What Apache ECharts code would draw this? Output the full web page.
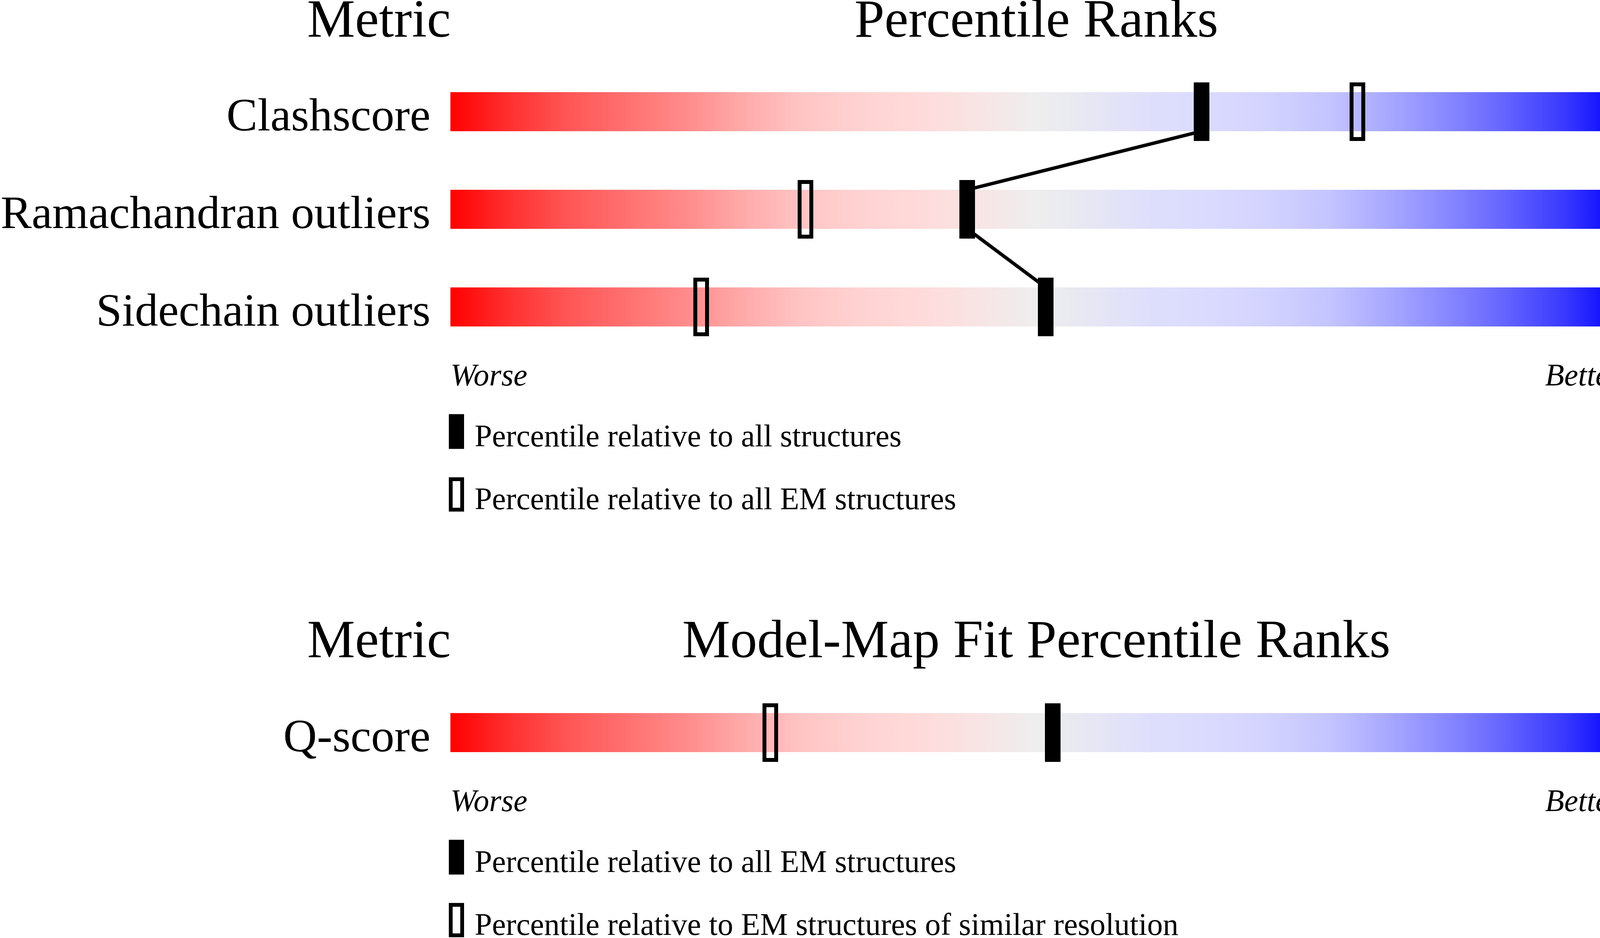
<!DOCTYPE html>
<html>
<head>
<meta charset="utf-8">
<script src="https://cdn.jsdelivr.net/npm/echarts@6/dist/echarts.min.js"></script>
<style>
html, body { margin: 0; padding: 0; background: #fff; }
#chart { width: 4485px; height: 2402px; }
</style>
</head>
<body>
<div id="chart"></div>
<script>
// validation sliders: percentile ranks (0 = worse, 100 = better)
var metricsTop = ['Clashscore', 'Ramachandran outliers', 'Sidechain outliers'];
var valuesTop = ['4', '0.2%', '1.8%'];
var pctAllTop = [64.1, 44.1, 50.8];      // relative to all structures
var pctEmTop = [77.4, 30.3, 21.4];       // relative to all EM structures

var metricsBottom = ['Q-score'];
var valuesBottom = ['0.446'];
var pctAllEm = [51.4];                   // relative to all EM structures
var pctSimilarRes = [27.3];              // relative to EM structures of similar resolution

var legendTop = ['Percentile relative to all structures', 'Percentile relative to all EM structures'];
var legendBottom = ['Percentile relative to all EM structures', 'Percentile relative to EM structures of similar resolution'];

var SERIF = 'Liberation Serif';
var BAR_H = 100;
var HOLLOW_ICON = 'path://M0,0H40V90H0Z M10,10V80H30V10Z';

var sliderGradient = new echarts.graphic.LinearGradient(0, 0, 1, 0, [
    { offset: 0, color: '#ff0000' }, { offset: 0.05, color: '#ff3030' },
    { offset: 0.10, color: '#ff5555' }, { offset: 0.15, color: '#ff7070' },
    { offset: 0.20, color: '#ff8a8a' }, { offset: 0.25, color: '#ffaaaa' },
    { offset: 0.30, color: '#ffc4c4' }, { offset: 0.35, color: '#ffd2d2' },
    { offset: 0.40, color: '#ffdada' }, { offset: 0.45, color: '#f8e4e4' },
    { offset: 0.50, color: '#eeeeee' }, { offset: 0.55, color: '#e6e6f4' },
    { offset: 0.60, color: '#dedefc' }, { offset: 0.65, color: '#dadaff' },
    { offset: 0.70, color: '#d2d2ff' }, { offset: 0.75, color: '#c4c4ff' },
    { offset: 0.80, color: '#a8a8ff' }, { offset: 0.85, color: '#8888ff' },
    { offset: 0.90, color: '#6464ff' }, { offset: 0.95, color: '#3a3aff' },
    { offset: 1, color: '#0000ff' }
]);

function markerItem(hollow) {
    return function (params, api) {
        var p = api.coord([api.value(0), api.value(1)]);
        if (hollow) {
            return { type: 'rect', shape: { x: p[0] - 15, y: p[1] - 70, width: 30, height: 140 },
                style: { fill: 'none', stroke: '#000', lineWidth: 10 } };
        }
        return { type: 'rect', shape: { x: p[0] - 20, y: p[1] - 75, width: 40, height: 150 },
            style: { fill: '#000' } };
    };
}

// line from bottom of one slider to top of the next one
function connectorItem(params, api) {
    var a = api.coord([api.value(0), api.value(1)]);
    var b = api.coord([api.value(2), api.value(3)]);
    return { type: 'line', shape: { x1: a[0], y1: a[1] + BAR_H / 2, x2: b[0], y2: b[1] - BAR_H / 2 },
        style: { stroke: '#000', lineWidth: 9 } };
}

function points(arr) {
    return arr.map(function (v, i) { return [v, i]; });
}

var segments = pctAllTop.slice(0, -1).map(function (v, i) {
    return [v, i, pctAllTop[i + 1], i + 1];
});

function headStyle(size, italic) {
    return { fontFamily: SERIF, fontSize: size, lineHeight: size, fontWeight: 'normal',
        fontStyle: italic ? 'italic' : 'normal', color: '#000' };
}

function title(text, x, y, align, size, italic) {
    return { text: text, left: x, top: y, textAlign: align, textVerticalAlign: 'middle',
        padding: 0, textStyle: headStyle(size, italic) };
}

// labels sit with their baseline on the bottom edge of the slider
function catAxis(grid, data, pos) {
    return {
        type: 'category', gridIndex: grid, data: data, inverse: true, position: pos,
        axisLine: { show: false }, axisTick: { show: false }, splitLine: { show: false },
        axisLabel: { fontFamily: SERIF, fontSize: 119, color: '#000', margin: 51,
            verticalAlign: 'top', lineHeight: 34 }
    };
}

function legendBlock(top, names) {
    return {
        orient: 'vertical', left: 1149, top: top, height: 300, padding: 0,
        itemWidth: 39, itemHeight: 89, itemGap: 47, selectedMode: false,
        formatter: function (name) { return '\n' + name; },
        textStyle: { fontFamily: SERIF, fontSize: 80, lineHeight: 34, color: '#000',
            padding: [0, 0, 0, 22] },
        data: [
            { name: names[0], icon: 'rect', itemStyle: { color: '#000', borderWidth: 0 } },
            { name: names[1], icon: HOLLOW_ICON, itemStyle: { color: '#000', borderWidth: 0 } }
        ]
    };
}

var chart = echarts.init(document.getElementById('chart'));

var option = {
    animation: false,
    backgroundColor: '#fff',
    title: [
        title('Metric', 1154, 58, 'right', 138),
        title('Percentile Ranks', 2653, 58, 'center', 138),
        title('Value', 4153, 58, 'left', 138),
        title('Worse', 1153, 966, 'left', 80, true),
        title('Better', 4151, 966, 'right', 80, true),
        title('Metric', 1154, 1647, 'right', 138),
        title('Model-Map Fit Percentile Ranks', 2653, 1647, 'center', 138),
        title('Value', 4153, 1647, 'left', 138),
        title('Worse', 1153, 2056, 'left', 80, true),
        title('Better', 4151, 2056, 'right', 80, true)
    ],
    legend: [legendBlock(1048, legendTop), legendBlock(2138, legendBottom)],
    grid: [
        { left: 1153, width: 3000, top: 161, height: 750, containLabel: false, outerBoundsMode: 'none' },
        { left: 1153, width: 3000, top: 1751, height: 250, containLabel: false, outerBoundsMode: 'none' }
    ],
    xAxis: [
        { type: 'value', gridIndex: 0, min: 0, max: 100, show: false },
        { type: 'value', gridIndex: 1, min: 0, max: 100, show: false }
    ],
    yAxis: [
        catAxis(0, metricsTop, 'left'),
        catAxis(0, valuesTop, 'right'),
        catAxis(1, metricsBottom, 'left'),
        catAxis(1, valuesBottom, 'right')
    ],
    series: [
        {
            name: 'slider', type: 'bar', xAxisIndex: 0, yAxisIndex: 0, barWidth: BAR_H, silent: true,
            data: metricsTop.map(function () { return 100; }),
            itemStyle: { color: sliderGradient }
        },
        {
            name: 'slider2', type: 'bar', xAxisIndex: 1, yAxisIndex: 2, barWidth: BAR_H, silent: true,
            data: metricsBottom.map(function () { return 100; }),
            itemStyle: { color: sliderGradient }
        },
        {
            name: 'connector', type: 'custom', xAxisIndex: 0, yAxisIndex: 0, z: 3, silent: true,
            encode: { x: [0, 2], y: [1, 3] },
            renderItem: connectorItem, data: segments
        },
        {
            name: legendTop[0], type: 'custom', xAxisIndex: 0, yAxisIndex: 0, z: 4,
            itemStyle: { color: '#000' },
            renderItem: markerItem(false), data: points(pctAllTop)
        },
        {
            name: legendTop[1], type: 'custom', xAxisIndex: 0, yAxisIndex: 0, z: 4,
            itemStyle: { color: '#000' },
            renderItem: markerItem(true), data: points(pctEmTop)
        },
        {
            name: legendBottom[0], type: 'custom', xAxisIndex: 1, yAxisIndex: 2, z: 4,
            itemStyle: { color: '#000' },
            renderItem: markerItem(false), data: points(pctAllEm)
        },
        {
            name: legendBottom[1], type: 'custom', xAxisIndex: 1, yAxisIndex: 2, z: 4,
            itemStyle: { color: '#000' },
            renderItem: markerItem(true), data: points(pctSimilarRes)
        }
    ]
};

chart.setOption(option);
</script>
</body>
</html>
